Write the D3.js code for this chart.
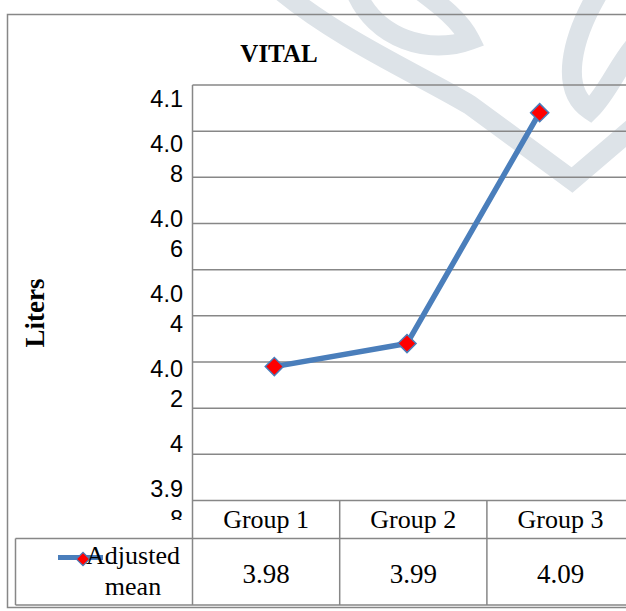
<!DOCTYPE html>
<html>
<head>
<meta charset="utf-8">
<script src="https://cdn.jsdelivr.net/npm/d3@7/dist/d3.min.js"></script>
<style>
  html, body { margin: 0; padding: 0; background: #fff; }
  svg { display: block; }
</style>
</head>
<body>
<script>
// Chart data
const categories = ["Group 1", "Group 2", "Group 3"];
const adjustedMean = [3.98, 3.99, 4.09];
const valueLabels = ["3.98", "3.99", "4.09"];
const seriesName = ["Adjusted", "mean"];
const tickLabels = ["4.1", "4.08", "4.06", "4.04", "4.02", "4", "3.98"];
const yDomain = [3.922, 4.102];
const gridStep = 0.02;

const W = 626, H = 611;
const gray = "#878787";
const blue = "#4a7ebb";
const serif = "'Liberation Serif', 'Times New Roman', serif";
const sans = "'Liberation Sans', Arial, sans-serif";

const plot = { left: 192.5, top: 85, bottom: 500.5, right: 640 };
const table = { left: 15.5, headerBottom: 538.5, bottom: 605 };

const svg = d3.select("body").append("svg")
  .attr("width", W).attr("height", H);

// faint page emblem behind the chart
const wm = svg.append("g").attr("fill", "none").attr("stroke", "#dde3e8")
  .attr("stroke-width", 20).attr("stroke-linecap", "round");
wm.append("path").attr("d", "M280,-10 C340,40 420,75 470,105 L572,180 L640,122");
wm.append("path").attr("d", "M355,-10 C375,40 430,55 470,40 C460,20 440,5 420,-10");
wm.append("path").attr("d", "M600,-10 C570,40 560,90 590,110 C610,90 620,60 640,40");

// scales
const y = d3.scaleLinear().domain(yDomain).range([plot.bottom, plot.top]);
const xPoint = d3.scaleBand().domain(categories).range([208, 606]);
const xCol = d3.scaleBand().domain(categories).range([plot.left, plot.left + 3 * 147.2]);

// outer chart frame
svg.append("rect")
  .attr("x", 7.5).attr("y", 14.5)
  .attr("width", 660).attr("height", 593)
  .attr("fill", "none").attr("stroke", gray).attr("stroke-width", 1.5);

// title
svg.append("text")
  .attr("x", 279).attr("y", 62)
  .attr("text-anchor", "middle")
  .style("font-family", serif).style("font-weight", "bold").style("font-size", "25px")
  .text("VITAL");

// y axis title
svg.append("text")
  .attr("transform", "translate(44,313) rotate(-90)")
  .attr("text-anchor", "middle")
  .style("font-family", serif).style("font-weight", "bold").style("font-size", "27px")
  .text("Liters");

// horizontal gridlines every 0.02 from the axis minimum
const nGrid = Math.round((yDomain[1] - yDomain[0]) / gridStep);
const gridValues = d3.range(nGrid + 1).map(i => yDomain[0] + i * gridStep);
svg.append("g").selectAll("line").data(gridValues).join("line")
  .attr("x1", plot.left).attr("x2", plot.right)
  .attr("y1", d => y(d)).attr("y2", d => y(d))
  .attr("stroke", gray).attr("stroke-width", 1.5);

// value axis line, running down through the data table
svg.append("line")
  .attr("x1", plot.left).attr("x2", plot.left)
  .attr("y1", plot.top).attr("y2", table.bottom)
  .attr("stroke", gray).attr("stroke-width", 1.5);

// tick labels: narrow label box wraps each label after three characters
svg.append("clipPath").attr("id", "tickClip")
  .append("rect").attr("x", 100).attr("y", plot.top).attr("width", 90).attr("height", 435);
const tickG = svg.append("g").attr("clip-path", "url(#tickClip)");
const lineGap = 30, labelGap = 45;
let baseY = plot.top + 22;
tickLabels.forEach(lbl => {
  const lines = lbl.length > 3 ? [lbl.slice(0, 3), lbl.slice(3)] : [lbl];
  lines.forEach((ln, i) => {
    tickG.append("text")
      .attr("x", 183).attr("y", baseY + i * lineGap)
      .attr("text-anchor", "end")
      .style("font-family", sans).style("font-size", "23.5px")
      .text(ln);
  });
  baseY += (lines.length - 1) * lineGap + labelGap;
});

// series line and markers
const pts = categories.map((c, i) => [xPoint(c) + xPoint.bandwidth() / 2, y(adjustedMean[i])]);
svg.append("path")
  .attr("d", d3.line()(pts))
  .attr("fill", "none").attr("stroke", blue).attr("stroke-width", 5.5);

const diamond = d3.symbol(d3.symbolSquare, 165);
svg.append("g").selectAll("path").data(pts).join("path")
  .attr("d", diamond)
  .attr("transform", d => `translate(${d[0]},${d[1]}) rotate(45)`)
  .attr("fill", "#ff0000").attr("stroke", blue).attr("stroke-width", 1.5);

// data table
const tg = svg.append("g");
tg.append("line")
  .attr("x1", table.left).attr("x2", plot.right)
  .attr("y1", table.headerBottom).attr("y2", table.headerBottom)
  .attr("stroke", gray).attr("stroke-width", 1.5);
tg.append("line")
  .attr("x1", table.left).attr("x2", plot.right)
  .attr("y1", table.bottom).attr("y2", table.bottom)
  .attr("stroke", gray).attr("stroke-width", 1.5);
tg.append("line")
  .attr("x1", table.left).attr("x2", table.left)
  .attr("y1", table.headerBottom).attr("y2", table.bottom)
  .attr("stroke", gray).attr("stroke-width", 1.5);
tg.selectAll("line.col").data(categories.slice(1)).join("line")
  .attr("class", "col")
  .attr("x1", d => xCol(d)).attr("x2", d => xCol(d))
  .attr("y1", plot.bottom).attr("y2", table.bottom)
  .attr("stroke", gray).attr("stroke-width", 1.5);

tg.selectAll("text.cat").data(categories).join("text")
  .attr("class", "cat")
  .attr("x", d => xCol(d) + xCol.bandwidth() / 2).attr("y", 528)
  .attr("text-anchor", "middle")
  .style("font-family", serif).style("font-size", "26px")
  .text(d => d);

tg.selectAll("text.val").data(valueLabels).join("text")
  .attr("class", "val")
  .attr("x", (d, i) => xCol(categories[i]) + xCol.bandwidth() / 2).attr("y", 583)
  .attr("text-anchor", "middle")
  .style("font-family", serif).style("font-size", "27px")
  .text(d => d);

// legend key in the table's first column
tg.append("line")
  .attr("x1", 58).attr("x2", 103).attr("y1", 557.5).attr("y2", 557.5)
  .attr("stroke", blue).attr("stroke-width", 5);
tg.append("path")
  .attr("d", d3.symbol(d3.symbolSquare, 90)())
  .attr("transform", "translate(83,559) rotate(45)")
  .attr("fill", "#ff0000").attr("stroke", blue).attr("stroke-width", 1.2);
seriesName.forEach((t, i) => {
  tg.append("text")
    .attr("x", 133).attr("y", 564 + i * 31)
    .attr("text-anchor", "middle")
    .style("font-family", serif).style("font-size", "26px")
    .text(t);
});
</script>
</body>
</html>
